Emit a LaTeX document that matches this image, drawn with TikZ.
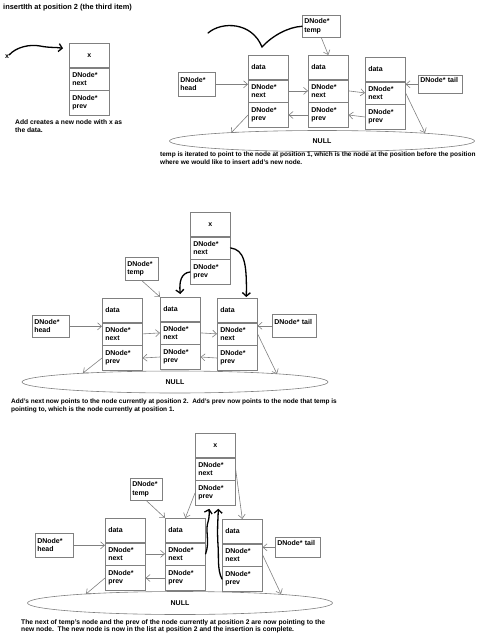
\documentclass[tikz,border=0pt]{standalone}
\usepackage{fontspec}
\setmainfont{Liberation Sans}
\usetikzlibrary{arrows.meta,shapes.geometric}
\definecolor{BoxClr}{gray}{0.5}
\newcommand{\boxfont}{\fontsize{7}{8.3}\selectfont\bfseries}
\newcommand{\capfont}{\fontsize{6.5}{7.5}\selectfont\bfseries}
\newcommand{\dnode}[5][left]{%
  \node[cell,minimum height=24pt,anchor=north west,align=#1] (#2d) at (#3,#4) {#5};
  \node[cell,minimum height=22pt,anchor=north] (#2n) at (#2d.south) {DNode*\\next};
  \node[cell,minimum height=25pt,anchor=north] (#2p) at (#2n.south) {DNode*\\prev};
}
\tikzset{
  cell/.style={draw=BoxClr,line width=.6pt,minimum width=40pt,text width=34pt,
    inner xsep=3pt,inner ysep=1pt,align=left,font=\boxfont},
  pbox/.style={draw=BoxClr,line width=.6pt,anchor=north west,align=left,
    inner xsep=2pt,inner ysep=1pt,font=\boxfont},
  nullring/.style={ellipse,draw=BoxClr,line width=.6pt,inner sep=0pt,font=\boxfont},
  captext/.style={anchor=north west,align=left,inner sep=0pt,font=\capfont},
  ptr/.style={draw=BoxClr,line width=.6pt,-{Straight Barb[length=4pt,width=7pt]}},
  hand/.style={draw=black,line width=1.3pt,line cap=round,-{Straight Barb[length=3.5pt,width=8pt]}},
  scrawl/.style={draw=black,line width=1.3pt,line cap=round}
}
\begin{document}
\begin{tikzpicture}[x=1pt,y=-1pt]
\useasboundingbox (0,0) rectangle (496,640);

\node[captext,font=\fontsize{7.4}{8.5}\selectfont\bfseries] (ttl) at (3,4) {insertIth at position 2 (the third item)};

\node[inner sep=0pt,font=\boxfont] (xl) at (7,57) {x};
\dnode[center]{x1}{69}{43}{x}
\draw[hand] (xl.north east) .. controls (16,47) and (30,44) .. (40,46)
  .. controls (50,48) and (55,47) .. ([xshift=-6pt,yshift=7pt]x1d.west);
\node[captext,font=\fontsize{6.7}{8.3}\selectfont\bfseries] (cap1) at (15,119) {Add creates a new node with x as\\the data.};

\dnode{a2}{248}{55}{data}
\dnode{b2}{308}{55}{data}
\dnode{c2}{365}{57}{data}
\node[pbox,text width=33pt,minimum height=24pt] (h2) at (178,72) {DNode*\\head};
\node[pbox,text width=34pt,minimum height=22pt] (tmp2) at (302,15) {DNode*\\temp};
\node[pbox,text width=40pt,minimum height=18pt] (t2) at (418,75) {DNode* tail\\\mbox{}};
\node[nullring,minimum width=305pt,minimum height=21pt] (z2) at (322,141) {NULL};
\coordinate (z2a) at (231,133);
\coordinate (z2b) at (425,133);
\coordinate (s2) at (208,33);
\draw[scrawl] (s2) .. controls (222,21) and (252,22) .. (262,47)
  .. controls (272,36) and (288,27) .. (tmp2.west);
\draw[ptr] (tmp2.south) -- (b2d.north);
\draw[ptr] (h2.east) -- (h2.east -| a2n.west);
\draw[ptr] (a2n.east) -- (b2n.west);
\draw[ptr] (b2n.east) -- (c2n.west);
\draw[ptr] (b2p.west) -- (a2p.east);
\draw[ptr] (c2p.west) -- (b2p.east);
\draw[ptr] (t2.west) -- (t2.west -| c2n.east);
\draw[ptr] (a2p.west) -- (z2a);
\draw[ptr] (c2n.east) -- (z2b);
\node[captext] (cap2) at (160,152) {temp is iterated to point to the node at position 1, which is the node at the position before the position\\where we would like to insert add's new node.};

\dnode[center]{x3}{190}{212}{x}
\dnode{a3}{102}{298}{data}
\dnode{b3}{160}{297}{data}
\dnode{c3}{217}{298}{data}
\node[pbox,text width=33pt,minimum height=22pt] (h3) at (32,315) {DNode*\\head};
\node[pbox,text width=29pt,minimum height=23pt] (tmp3) at (125,257) {DNode*\\temp};
\node[pbox,text width=40pt,minimum height=23pt] (t3) at (272,314) {DNode* tail\\\mbox{}};
\node[nullring,minimum width=306pt,minimum height=22pt] (z3) at (175,382) {NULL};
\coordinate (z3a) at (83,373);
\coordinate (z3b) at (277,374);
\draw[ptr] (tmp3.south) -- (b3d.north west);
\draw[hand] (x3p.west) .. controls (181,273) and (179,282) .. ([yshift=3pt]b3d.north);
\draw[hand] (x3n.east) .. controls (244,250) and (247,262) .. ([xshift=9pt,yshift=1pt]c3d.north);
\draw[ptr] (h3.east) -- (h3.east -| a3n.west);
\draw[ptr] (a3n.east) -- (b3n.west);
\draw[ptr] (b3n.east) -- (c3n.west);
\draw[ptr] (b3p.west) -- (a3p.east);
\draw[ptr] (c3p.west) -- (b3p.east);
\draw[ptr] (t3.west) -- (t3.west -| c3n.east);
\draw[ptr] (a3p.west) -- (z3a);
\draw[ptr] (c3n.east) -- (z3b);
\node[captext] (cap3) at (11,399) {Add's next now points to the node currently at position 2.\ \ Add's prev now points to the node that temp is\\pointing to, which is the node currently at position 1.};

\dnode[center]{x4}{195}{433}{x}
\dnode{a4}{105}{518}{data}
\dnode{b4}{165}{518}{data}
\dnode{c4}{222}{519}{data}
\node[pbox,text width=34pt,minimum height=24pt] (h4) at (35,533) {DNode*\\head};
\node[pbox,text width=28pt,minimum height=22pt] (tmp4) at (130,478) {DNode*\\temp};
\node[pbox,text width=41pt,minimum height=20pt] (t4) at (275,537) {DNode* tail\\\mbox{}};
\node[nullring,minimum width=305pt,minimum height=23pt] (z4) at (180,603) {NULL};
\coordinate (z4a) at (86,594);
\coordinate (z4b) at (281,594);
\draw[ptr] (tmp4.south) -- (b4d.north west);
\draw[ptr] (x4p.west) -- (b4d.north);
\draw[ptr] (x4n.east) -- (c4d.north);
\draw[hand] (b4n.east) .. controls (210,542) and (205,530) .. (208,522)
  .. controls (210,515) and (209,510) .. ([xshift=-6pt,yshift=-3pt]x4p.south);
\draw[hand] (c4p.west) .. controls (217,570) and (219,555) .. (218,545)
  .. controls (217,530) and (218,520) .. ([xshift=3pt,yshift=-3pt]x4p.south);
\draw[ptr] (h4.east) -- (h4.east -| a4n.west);
\draw[ptr] (a4n.east) -- (b4n.west);
\draw[ptr] (b4p.west) -- (a4p.east);
\draw[ptr] (t4.west) -- (t4.west -| c4n.east);
\draw[ptr] (a4p.west) -- (z4a);
\draw[ptr] (c4n.east) -- (z4b);
\node[captext,font=\fontsize{6.7}{7}\selectfont\bfseries] (cap4) at (21,619) {The next of temp's node and the prev of the node currently at position 2 are now pointing to the\\new node.\ \ The new node is now in the list at position 2 and the insertion is complete.};
\end{tikzpicture}
\end{document}
